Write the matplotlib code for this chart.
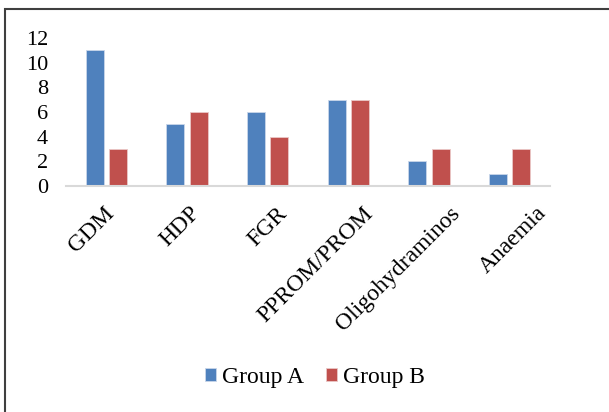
import matplotlib
matplotlib.use('Agg')
import matplotlib.pyplot as plt
import matplotlib.transforms as mtransforms
from matplotlib.patches import Rectangle
import numpy as np

# Dados
categorias = ['GDM', 'HDP', 'FGR', 'PPROM/PROM', 'Oligohydraminos', 'Anaemia']
grupo_a = [11, 5, 6, 7, 2, 1]
grupo_b = [3, 6, 4, 7, 3, 3]
yticks = [0, 2, 4, 6, 8, 10, 12]

plt.rcParams['font.family'] = ['Liberation Serif', 'DejaVu Serif']

fig = plt.figure(figsize=(6.09, 4.12), dpi=100)
ax = fig.add_axes([66 / 609, 1 - 186 / 412, 484 / 609, 148 / 412])

x = np.arange(len(categorias))
w = 0.22
ax.bar(x - 0.145, grupo_a, w, color='#4F81BD', edgecolor='#C9D6EA', lw=0.6, label='Group A')
ax.bar(x + 0.145, grupo_b, w, color='#C0504D', edgecolor='#EAC8C7', lw=0.6, label='Group B')

ax.set_xlim(-0.5, len(categorias) - 0.5)
ax.set_ylim(0, 12)
ax.set_yticks(yticks)
ax.set_yticklabels([str(v) for v in yticks], fontsize=16)
ax.tick_params(axis='y', length=0, pad=13)
ax.tick_params(axis='x', length=0, pad=12)
ax.set_xticks(x)
ax.set_xticklabels(categorias, rotation=45, ha='right', va='top',
                   rotation_mode='anchor', fontsize=17)

# Os rótulos no original ficam um pouco mais espaçados que as categorias
for i, lbl in enumerate(ax.get_xticklabels()):
    dx = (-3 + 5.8 * i) / 100.0
    lbl.set_transform(lbl.get_transform() +
                      mtransforms.ScaledTranslation(dx, 0, fig.dpi_scale_trans))

for s in ['top', 'right', 'left']:
    ax.spines[s].set_visible(False)
ax.spines['bottom'].set_color('#D9D9D9')
ax.spines['bottom'].set_linewidth(1.5)

fig.legend(loc='center', bbox_to_anchor=(0.517, 0.083), ncol=2, frameon=False,
           fontsize=17, handlelength=0.47, handleheight=0.47, handletextpad=0.25,
           columnspacing=0.95)

# Borda da figura
fig.add_artist(Rectangle((5 / 609, -0.1), 1.2, 1 - 9.5 / 412 + 0.1,
                         transform=fig.transFigure, fill=False,
                         edgecolor='#3F3F3F', lw=1.5))

fig.savefig('out.png', dpi=100)
